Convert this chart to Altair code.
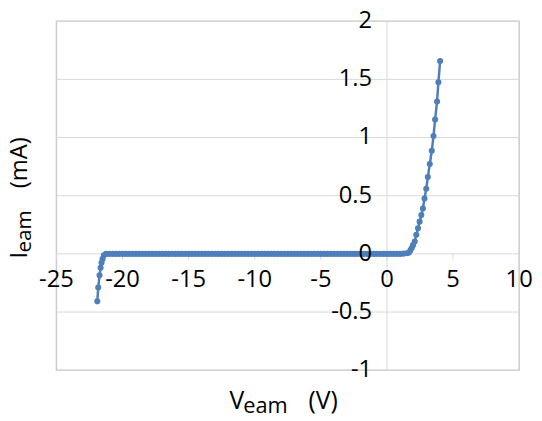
import altair as alt
import pandas as pd

# ---- data ----
v_reverse = [-21.91, -21.84, -21.74, -21.66, -21.59, -21.51, -21.41]
i_reverse = [-0.408, -0.289, -0.184, -0.119, -0.077, -0.043, -0.012]

v_flat = [
    -21.25, -21.0, -20.75, -20.5, -20.25, -20.0, -19.75, -19.5, -19.25, -19.0,
    -18.75, -18.5, -18.25, -18.0, -17.75, -17.5, -17.25, -17.0, -16.75, -16.5,
    -16.25, -16.0, -15.75, -15.5, -15.25, -15.0, -14.75, -14.5, -14.25, -14.0,
    -13.75, -13.5, -13.25, -13.0, -12.75, -12.5, -12.25, -12.0, -11.75, -11.5,
    -11.25, -11.0, -10.75, -10.5, -10.25, -10.0, -9.75, -9.5, -9.25, -9.0,
    -8.75, -8.5, -8.25, -8.0, -7.75, -7.5, -7.25, -7.0, -6.75, -6.5,
    -6.25, -6.0, -5.75, -5.5, -5.25, -5.0, -4.75, -4.5, -4.25, -4.0,
    -3.75, -3.5, -3.25, -3.0, -2.75, -2.5, -2.25, -2.0, -1.75, -1.5,
    -1.25, -1.0, -0.75, -0.5, -0.25, 0.0, 0.25, 0.5, 0.75, 1.0,
]
i_flat = [
    0.0, 0.0, 0.0, 0.0, 0.0, 0.0, 0.0, 0.0, 0.0, 0.0,
    0.0, 0.0, 0.0, 0.0, 0.0, 0.0, 0.0, 0.0, 0.0, 0.0,
    0.0, 0.0, 0.0, 0.0, 0.0, 0.0, 0.0, 0.0, 0.0, 0.0,
    0.0, 0.0, 0.0, 0.0, 0.0, 0.0, 0.0, 0.0, 0.0, 0.0,
    0.0, 0.0, 0.0, 0.0, 0.0, 0.0, 0.0, 0.0, 0.0, 0.0,
    0.0, 0.0, 0.0, 0.0, 0.0, 0.0, 0.0, 0.0, 0.0, 0.0,
    0.0, 0.0, 0.0, 0.0, 0.0, 0.0, 0.0, 0.0, 0.0, 0.0,
    0.0, 0.0, 0.0, 0.0, 0.0, 0.0, 0.0, 0.0, 0.0, 0.0,
    0.0, 0.0, 0.0, 0.0, 0.0, 0.0, 0.0, 0.0, 0.0, 0.0,
]

v_forward = [1.25, 1.5, 1.65, 1.77, 1.87, 1.97, 2.1, 2.22, 2.35, 2.47, 2.6,
             2.72, 2.84, 2.97, 3.09, 3.24, 3.39, 3.52, 3.64, 3.79, 3.89, 4.02]
i_forward = [0.002, 0.005, 0.01, 0.03, 0.05, 0.075, 0.107, 0.164, 0.22, 0.277,
             0.334, 0.39, 0.476, 0.56, 0.66, 0.773, 0.886, 1.013, 1.155, 1.31,
             1.475, 1.657]

x_ticks = [-25, -20, -15, -10, -5, 0, 5, 10]
x_tick_labels = ["-25", "-20", "-15", "-10", "-5", "0", "5", "10"]
y_ticks = [-1, -0.5, 0, 0.5, 1, 1.5, 2]
y_tick_labels = ["-1", "-0.5", "0", "0.5", "1", "1.5", "2"]

# ---- build ----
V = v_reverse + v_flat + v_forward
I = i_reverse + i_flat + i_forward
curve = pd.DataFrame({"V": V, "I": I, "order": list(range(len(V)))})

FONT = "Open Sans"
BLUE = "#4f7fba"
GRID = "#d9d9d9"

xs = alt.Scale(domain=[-25, 10], nice=False, zero=False)
ys = alt.Scale(domain=[-1, 2], nice=False, zero=False)

grid = alt.Chart(pd.DataFrame({"y": y_ticks})).mark_rule(
    color=GRID, strokeWidth=1
).encode(y=alt.Y("y:Q", scale=ys, axis=None))

yaxis_line = alt.Chart(pd.DataFrame({"x": [0]})).mark_rule(
    color=GRID, strokeWidth=1
).encode(x=alt.X("x:Q", scale=xs, axis=None))

tick_df = pd.DataFrame({"x": x_ticks, "y0": [0] * len(x_ticks), "y1": [-0.05] * len(x_ticks)})
xticks = alt.Chart(tick_df).mark_rule(color=GRID, strokeWidth=1).encode(
    x=alt.X("x:Q", scale=xs, axis=None),
    y=alt.Y("y0:Q", scale=ys, axis=None),
    y2="y1:Q",
)

xlab_df = pd.DataFrame({"x": x_ticks, "label": x_tick_labels, "y": [0] * len(x_ticks)})
xlabels = alt.Chart(xlab_df).mark_text(
    font=FONT, fontSize=24, color="#000000", baseline="middle", dy=27
).encode(
    x=alt.X("x:Q", scale=xs, axis=None),
    y=alt.Y("y:Q", scale=ys, axis=None),
    text="label:N",
)

ylab_df = pd.DataFrame({"y": y_ticks, "label": y_tick_labels, "x": [0] * len(y_ticks)})
ylabels = alt.Chart(ylab_df).mark_text(
    font=FONT, fontSize=24, color="#000000", baseline="middle", align="right", dx=-15
).encode(
    x=alt.X("x:Q", scale=xs, axis=None),
    y=alt.Y("y:Q", scale=ys, axis=None),
    text="label:N",
)

line = alt.Chart(curve).mark_line(color=BLUE, strokeWidth=2.5).encode(
    x=alt.X("V:Q", scale=xs, axis=None),
    y=alt.Y("I:Q", scale=ys, axis=None),
    order="order:Q",
)
dots = alt.Chart(curve).mark_circle(color=BLUE, size=38, opacity=1).encode(
    x=alt.X("V:Q", scale=xs, axis=None),
    y=alt.Y("I:Q", scale=ys, axis=None),
)

one = pd.DataFrame({"a": [0]})


def txt(s, x, y, size, angle=0):
    return alt.Chart(one).mark_text(
        text=s, font=FONT, fontSize=size, color="#000000",
        align="left", baseline="alphabetic", angle=angle,
    ).encode(x=alt.value(x), y=alt.value(y))


titles = [
    txt("V", 175, 392, 25),
    txt("eam", 189, 396, 22),
    txt("(V)", 255, 392, 25),
    txt("I", -30, 240, 24, 270),
    txt("eam", -26, 234, 21, 270),
    txt("(mA)", -30, 188 - 19, 24, 270),
]

chart = alt.layer(
    grid, yaxis_line, xticks, line, dots, xlabels, ylabels, *titles
).properties(
    width=468,
    height=353,
    autosize=alt.AutoSizeParams(type="none"),
    padding={"left": 49, "top": 11, "right": 15, "bottom": 48},
).configure_view(
    stroke="#cccccc", strokeWidth=1.5
)

chart.save("out.html", embed_options={"renderer": "svg", "actions": False})
